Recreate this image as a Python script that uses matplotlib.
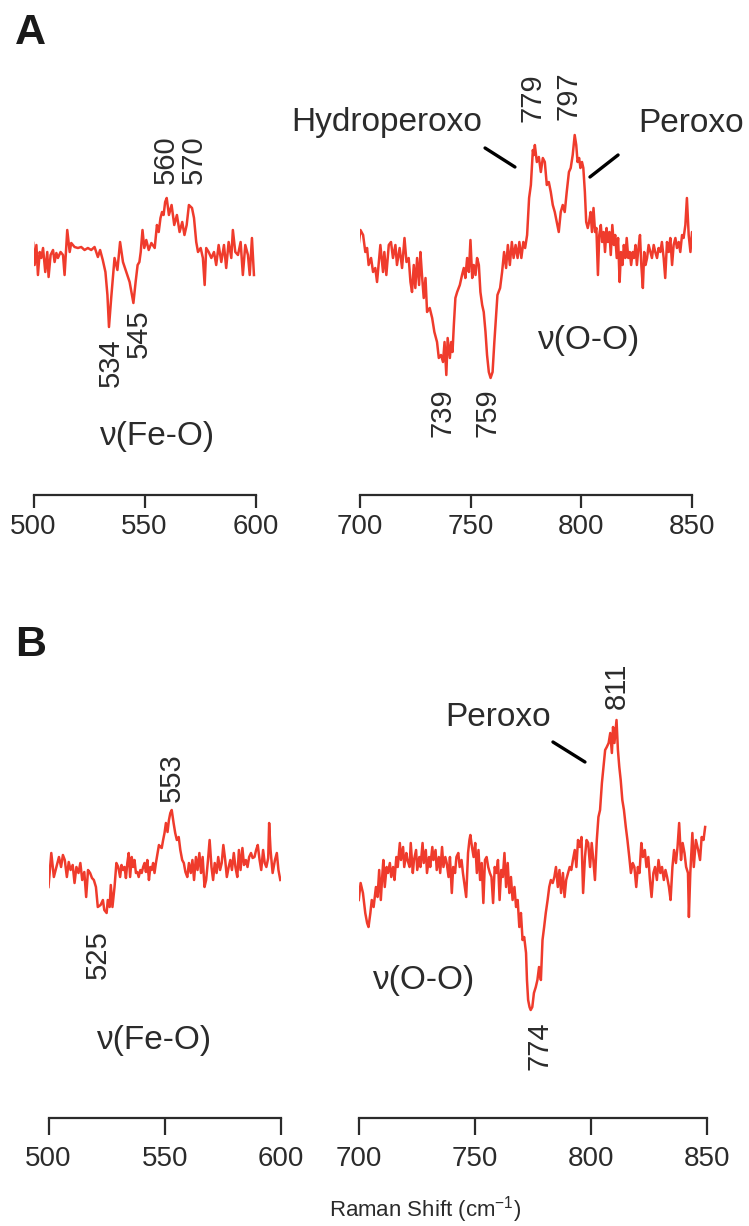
import matplotlib
matplotlib.use("Agg")
import matplotlib.pyplot as plt

RED = "#ef3b2c"
INK = "#2b2b2b"

plt.rcParams.update({
    "font.family": "Liberation Sans",
    "mathtext.fontset": "custom",
    "mathtext.rm": "Liberation Sans",
    "text.color": INK,
    "xtick.color": INK,
})

W, H = 749, 1226

# Resonance Raman difference spectra, intensity in arbitrary units
a_fe_x = [497.5, 498.7, 499.8, 500.5, 501.3, 502.0, 502.8, 503.5, 504.3, 505.3,
          506.2, 506.8, 507.7, 508.8, 509.5, 510.3, 511.0, 512.2, 513.3, 514.0,
          515.2, 516.3, 517.0, 518.5, 520.0, 521.5, 523.0, 524.5, 526.0, 527.5,
          529.0, 530.0, 531.2, 532.4, 533.3, 534.0, 535.0, 536.5, 537.8, 539.0,
          540.3, 541.8, 543.3, 545.0, 546.0, 546.9, 547.7, 548.3, 549.1, 549.9,
          550.8, 551.9, 553.1, 554.6, 555.6, 556.4, 557.2, 557.9, 558.6, 559.3,
          560.0, 561.0, 562.2, 563.4, 564.6, 565.8, 567.0, 568.0, 569.0, 570.0,
          571.4, 572.3, 573.3, 574.1, 575.3, 576.3, 577.1, 577.8, 578.9, 580.1,
          581.3, 582.3, 583.4, 584.6, 585.8, 586.8, 587.9, 589.1, 589.8, 590.9,
          592.1, 593.3, 594.3, 595.4, 596.6, 597.4, 598.4, 599.3]
a_fe_y = [15, -2, 8, -15, 5, -25, -2, -8, 2, -22,
          -2, -27, -5, 0, -12, -3, -8, -2, -5, -25,
          20, -2, 7, 3, 2, 3, 0, 2, 0, 3,
          -7, 0, -10, -22, -45, -77, -48, -8, -20, 8,
          -12, -22, -32, -53, -32, -15, -12, -2, 20, 2,
          10, 0, 7, 2, 25, 18, 32, 38, 35, 48,
          52, 35, 45, 25, 35, 18, 28, 15, 25, 45,
          42, 32, 8, -2, 2, -8, -35, 2, -2, -8,
          -2, -15, 5, -12, 5, -18, 8, -8, 20, -2,
          -5, 8, -25, 5, -5, -25, 12, -25]

a_oo_x = [699.0, 700.2, 701.4, 702.4, 703.2, 703.9, 705.0, 705.9, 706.9, 707.7,
          708.4, 709.2, 710.4, 711.0, 711.9, 713.0, 714.0, 714.9, 716.0, 716.7,
          717.9, 719.0, 720.1, 721.0, 722.0, 722.8, 723.5, 724.3, 725.0, 725.8,
          726.7, 727.3, 728.0, 728.8, 729.6, 730.3, 731.5, 732.6, 733.6, 734.8,
          735.6, 736.6, 737.5, 738.2, 739.0, 739.6, 740.6, 741.2, 741.8, 742.4,
          743.1, 743.9, 745.1, 746.1, 746.9, 747.6, 748.4, 749.2, 749.9, 750.7,
          751.4, 752.2, 752.9, 753.7, 754.4, 755.2, 755.9, 756.7, 757.4, 758.2,
          759.0, 759.9, 760.7, 762.1, 763.3, 764.2, 765.1, 766.0, 766.8, 767.7,
          768.6, 769.4, 770.3, 771.2, 772.0, 772.9, 773.8, 774.6, 775.5, 776.4,
          777.2, 778.1, 778.5, 779.0, 779.9, 780.8, 781.7, 782.6, 783.5, 784.4,
          785.3, 786.2, 787.1, 788.0, 788.9, 789.8, 790.7, 791.6, 792.5, 793.4,
          794.4, 795.2, 796.1, 797.0, 797.7, 798.3, 799.0, 799.6, 800.3, 800.9,
          801.6, 802.2, 802.9, 803.5, 804.2, 804.8, 805.5, 806.2, 806.8, 807.5,
          808.1, 808.8, 809.4, 810.1, 810.7, 811.4, 812.0, 812.7, 813.3, 814.0,
          814.7, 815.3, 816.0, 816.6, 817.3, 817.9, 818.6, 819.2, 819.9, 820.5,
          821.2, 821.9, 822.5, 823.2, 823.8, 824.5, 825.1, 825.8, 826.5, 827.1,
          827.8, 828.4, 829.0, 829.7, 830.4, 831.2, 831.9, 832.7, 833.4, 834.2,
          834.9, 835.7, 836.4, 837.2, 837.9, 838.7, 839.5, 840.2, 841.0, 841.7,
          842.5, 843.2, 844.0, 844.7, 845.5, 846.2, 847.0, 847.7, 848.5, 849.3,
          850.0, 850.8]
a_oo_y = [3, 25, 20, 3, 7, -10, -3, -17, -13, -27,
          -10, 10, -17, 3, -20, 10, 13, -3, 10, -10,
          7, -13, 17, -7, -3, -27, -37, -10, -33, -3,
          -30, 3, -20, -43, -23, -57, -53, -63, -77, -87,
          -103, -100, -107, -87, -120, -83, -103, -87, -97, -70,
          -43, -37, -30, -20, -13, -23, -3, -17, 15, -23,
          -10, -20, -3, -10, -37, -50, -57, -77, -100, -117,
          -123, -117, -87, -40, -33, -17, 3, -13, 10, -10,
          13, -3, 10, -3, 13, -3, 13, 7, 20, 57,
          70, 105, 100, 110, 93, 98, 83, 97, 93, 70,
          73, 63, 50, 43, 33, 23, 43, 50, 43, 63,
          83, 87, 100, 120, 110, 93, 97, 87, 93, 87,
          63, 33, 27, 33, 43, 23, 47, 23, 27, -20,
          20, 30, 13, 23, 3, 27, 13, 23, 0, 30,
          10, 20, -3, 17, -27, 3, -10, 10, -3, 17,
          -3, 3, -10, 3, -3, 10, -10, 7, 20, -10,
          -33, 3, -10, -3, 10, 3, -3, 10, 3, -3,
          7, 3, 13, -3, -23, 13, 3, 17, -10, 10,
          17, 7, 13, 3, 20, 17, 30, 57, 20, 3,
          23, 7]

b_fe_x = [500.0, 501.2, 502.3, 503.4, 504.5, 505.4, 506.2, 507.0, 507.9, 508.7,
          509.5, 510.4, 511.2, 512.0, 512.9, 513.7, 514.5, 515.4, 516.2, 517.0,
          517.9, 518.7, 519.5, 520.4, 521.2, 522.4, 523.4, 524.0, 525.0, 525.5,
          526.3, 526.8, 527.5, 528.4, 529.2, 530.0, 530.8, 531.4, 532.1, 532.7,
          533.3, 533.9, 534.5, 535.1, 535.8, 536.4, 537.0, 537.6, 538.2, 538.8,
          539.5, 540.1, 540.7, 541.3, 541.9, 542.5, 543.2, 543.8, 544.4, 545.0,
          545.6, 546.2, 546.9, 547.5, 548.1, 548.7, 549.3, 549.9, 550.5, 551.2,
          551.8, 552.4, 553.0, 553.8, 554.5, 555.2, 556.0, 556.7, 557.5, 558.2,
          558.9, 559.7, 560.4, 561.2, 561.9, 562.6, 563.4, 564.1, 564.9, 565.6,
          566.3, 567.1, 567.8, 568.6, 569.3, 570.1, 570.8, 571.5, 572.3, 573.0,
          573.8, 574.5, 575.2, 576.0, 576.7, 577.5, 578.2, 578.9, 579.7, 580.4,
          581.2, 581.9, 582.6, 583.4, 584.1, 584.9, 585.6, 586.3, 587.1, 587.8,
          588.6, 589.3, 590.0, 590.8, 591.5, 592.3, 593.0, 593.7, 594.5, 594.9,
          595.5, 596.4, 597.4, 598.2, 598.9, 599.7]
b_fe_y = [-27, 7, -17, -7, 3, -7, 5, 0, -17, -2,
          -10, -5, -23, -7, -13, -3, -20, -12, -37, -10,
          -13, -18, -20, -27, -47, -45, -40, -50, -53, -40,
          -47, -25, -47, -27, -3, -7, -17, -5, -10, -7,
          -18, -3, 7, -17, 3, -7, 0, -13, -12, -17,
          -10, -13, -7, -3, -12, 0, -20, -7, -10, -3,
          -13, -3, 7, 15, 13, 12, 20, 27, 37, 28,
          40, 47, 50, 37, 27, 20, 23, 10, 0, -3,
          -12, -17, -3, -13, 0, -20, 3, -10, 7, -13,
          3, -27, -20, 0, 20, -7, -20, -3, -13, 3,
          -10, -3, 15, 0, -17, -7, 0, -10, 7, -7,
          -17, 10, -10, 12, -5, 0, -7, 3, 7, 2,
          3, 10, 15, 0, -10, 10, -3, -7, 2, 37,
          10, -13, 0, 7, -10, -20]

b_oo_x = [699.9, 700.7, 701.7, 702.7, 703.5, 704.1, 704.9, 705.5, 706.3, 707.3,
          708.0, 708.7, 709.4, 710.1, 710.5, 711.1, 711.9, 712.5, 713.3, 713.9,
          714.7, 715.3, 716.1, 716.7, 717.6, 718.1, 719.0, 719.5, 720.4, 720.9,
          721.8, 722.3, 723.2, 723.7, 724.6, 725.1, 726.0, 726.5, 727.4, 727.9,
          728.8, 729.3, 730.2, 730.7, 731.6, 732.1, 733.0, 733.5, 734.4, 735.0,
          735.8, 736.4, 737.2, 737.8, 738.6, 739.2, 740.0, 740.6, 741.4, 742.0,
          742.8, 743.4, 744.2, 744.8, 745.6, 746.2, 747.0, 747.6, 748.0, 748.7,
          749.4, 750.1, 750.8, 751.5, 752.2, 752.9, 753.6, 754.3, 755.0, 755.7,
          756.4, 757.1, 757.8, 758.5, 759.2, 759.9, 760.6, 761.3, 762.0, 762.7,
          763.4, 764.1, 764.8, 765.5, 766.2, 767.0, 767.7, 768.4, 769.1, 769.8,
          770.5, 771.2, 772.0, 772.4, 772.9, 773.5, 774.0, 774.7, 775.4, 776.2,
          776.9, 777.6, 778.4, 779.1, 779.8, 780.5, 781.3, 782.0, 782.7, 783.5,
          784.2, 784.9, 785.7, 786.4, 787.1, 787.9, 788.6, 789.3, 790.1, 790.8,
          791.5, 792.2, 793.0, 793.7, 794.4, 795.2, 795.9, 796.6, 797.4, 798.1,
          798.8, 799.6, 800.3, 801.0, 801.7, 802.5, 803.2, 803.9, 804.7, 805.4,
          806.1, 806.8, 807.6, 808.3, 809.0, 809.5, 810.1, 811.0, 811.6, 812.2,
          812.8, 813.5, 814.2, 815.0, 815.7, 816.5, 817.2, 818.0, 818.7, 819.5,
          820.2, 820.9, 821.7, 822.4, 823.2, 823.9, 824.7, 825.4, 826.1, 826.9,
          827.6, 828.4, 829.1, 829.9, 830.6, 831.4, 832.1, 832.8, 833.6, 834.3,
          835.1, 835.8, 836.6, 837.3, 838.0, 838.8, 839.5, 840.3, 841.0, 841.8,
          842.2, 842.8, 843.7, 844.3, 845.2, 846.2, 847.0, 847.7, 848.5, 849.2]
b_oo_y = [-20, -3, -13, -33, -43, -47, -33, -20, -27, -7,
          -17, 10, -20, 7, 20, -7, 13, 7, 17, 3,
          13, 0, 23, 13, 37, 20, 33, 13, 27, 20,
          13, 37, 7, 20, 30, 10, 23, 13, 37, 17,
          30, 7, 23, 13, 33, 20, 30, 10, 23, 7,
          33, 13, 23, 17, 3, 23, -13, 13, 7, 23,
          27, 13, 20, 7, -7, -17, 27, 40, 45, 33,
          23, 37, 7, 30, 0, 17, -23, 20, 23, 13,
          7, 3, -23, 13, 7, 20, -20, 10, 3, 27,
          -7, 17, -13, 3, -20, -7, -27, -20, -47, -33,
          -60, -57, -73, -100, -120, -127, -130, -127, -113, -107,
          -100, -87, -100, -60, -47, -33, -20, -7, 0, -3,
          3, 13, -7, 10, -13, 7, -17, 0, 7, 13,
          10, 20, 30, 13, 40, 33, 43, -13, 23, 40,
          37, 13, 37, 20, 0, 40, 63, 70, 97, 113,
          130, 133, 137, 147, 127, 153, 137, 160, 130, 113,
          100, 80, 70, 53, 40, 23, 7, 17, 13, -7,
          13, 7, 37, 23, 30, 13, 23, 0, -17, 7,
          13, 0, 20, 7, 13, 0, 10, 3, -7, -20,
          13, 30, 17, 33, 57, 20, 37, 27, 13, 7,
          -37, 7, 47, 13, 40, 30, 20, 43, 40, 53]

left_ticks = [500, 550, 600]
right_ticks = [700, 750, 800, 850]


def panel(fig, x0, x1, axis_y, top_y, base_y, xlim, ticks, tick_len=9.5, pad=4):
    """Axes placed in pixel units; one y unit equals one pixel."""
    ax = fig.add_axes([x0 / W, 1 - axis_y / H, (x1 - x0) / W, (axis_y - top_y) / H])
    ax.set_xlim(*xlim)
    ax.set_ylim(base_y - axis_y, base_y - top_y)
    ax.patch.set_alpha(0)
    for s in ["top", "left", "right"]:
        ax.spines[s].set_visible(False)
    ax.spines["bottom"].set_linewidth(1.6)
    ax.spines["bottom"].set_color(INK)
    ax.set_yticks([])
    ax.set_xticks(ticks)
    ax.tick_params(axis="x", direction="out", length=tick_len, width=1.6,
                   labelsize=20, pad=pad, color=INK)
    return ax


def peak(ax, x, y, txt, below=False):
    ax.text(x, y, txt, rotation=90, ha="center", va="top" if below else "bottom",
            fontsize=21)


fig = plt.figure(figsize=(W / 100, H / 100), dpi=100)

# ---- A
ax = panel(fig, 33.5, 255.5, 495, 60, 250, (500, 600), left_ticks)
ax.plot(a_fe_x, a_fe_y, color=RED, lw=1.8)
peak(ax, 559.5, 66, "560")
peak(ax, 572.0, 66, "570")
peak(ax, 535.0, -88, "534", below=True)
peak(ax, 547.3, -59, "545", below=True)
ax.text(556.1, -187, "ν(Fe-O)", ha="center", va="center", fontsize=24)

ax = panel(fig, 360, 692, 495, 60, 255, (700, 850), right_ticks)
ax.plot(a_oo_x, a_oo_y, color=RED, lw=1.8)
peak(ax, 778.0, 133, "779")
peak(ax, 794.0, 135, "797")
peak(ax, 737.1, -133, "739", below=True)
peak(ax, 757.8, -133, "759", below=True)
ax.text(803.5, -85, "ν(O-O)", ha="center", va="center", fontsize=24)
ax.text(755.0, 132, "Hydroperoxo", ha="right", va="center", fontsize=24)
ax.text(825.6, 132, "Peroxo", ha="left", va="center", fontsize=24, clip_on=False)
ax.plot([756.5, 770.0], [107, 88], color="black", lw=2.4, solid_capstyle="round")
ax.plot([803.9, 816.6], [78, 100], color="black", lw=2.4, solid_capstyle="round")

# ---- B
ax = panel(fig, 48.5, 281, 1118, 640, 860, (500, 600), left_ticks, tick_len=12, pad=8)
ax.plot(b_fe_x, b_fe_y, color=RED, lw=1.8)
peak(ax, 553.1, 58, "553")
peak(ax, 521.3, -70, "525", below=True)
ax.text(545.8, -181, "ν(Fe-O)", ha="center", va="center", fontsize=24)

ax = panel(fig, 359, 707, 1118, 640, 880, (700, 850), right_ticks, tick_len=12, pad=8)
ax.plot(b_oo_x, b_oo_y, color=RED, lw=1.8)
peak(ax, 811.2, 171, "811")
peak(ax, 777.6, -141, "774", below=True)
ax.text(728.0, -100, "ν(O-O)", ha="center", va="center", fontsize=24)
ax.text(737.1, 163, "Peroxo", ha="left", va="center", fontsize=24)
ax.plot([783.6, 797.4], [138, 118], color="black", lw=2.4, solid_capstyle="round")

fig.text(15 / W, 1 - 33 / H, "A", fontsize=31, fontweight="bold", va="center", color="#1a1a1a")
fig.text(15 / W, 1 - 645 / H, "B", fontsize=31, fontweight="bold", va="center", color="#1a1a1a")
fig.text(425 / W, 1 - 1210 / H, "Raman Shift (cm$^{-1}$)", fontsize=16, ha="center", va="center")

fig.savefig("out.png", dpi=100)
